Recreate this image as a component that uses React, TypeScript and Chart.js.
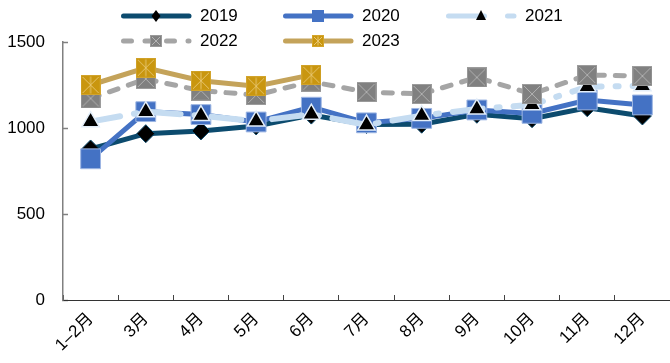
import React, { useEffect, useRef } from 'react';
import { Chart, registerables } from 'chart.js';

Chart.register(...registerables);

// Monthly values, 2019–2023
const months = ['1–2月', '3月', '4月', '5月', '6月', '7月', '8月', '9月', '10月', '11月', '12月'];
const y2019 = [878, 967, 983, 1012, 1075, 1020, 1022, 1080, 1054, 1118, 1070];
const y2020 = [821, 1095, 1078, 1035, 1121, 1030, 1056, 1105, 1085, 1163, 1134];
const y2021 = [1037, 1095, 1072, 1040, 1080, 1018, 1072, 1110, 1135, 1240, 1245];
const y2022 = [1172, 1285, 1217, 1192, 1269, 1209, 1198, 1294, 1198, 1308, 1302];
const y2023 = [1250, 1350, 1275, 1243, 1309];
const yTicks = [0, 500, 1000, 1500];

const FONT = '"Liberation Sans", Arial, "Noto Sans CJK SC", sans-serif';

const C2019 = '#0c4b6e';
const C2020 = '#4472c4';
const C2021 = '#c5dcf1';
const C2022 = '#a5a5a5';
const C2023 = '#c4a35a';

// Filled square marker with a cross (and optional vertical bar) drawn inside
function boxMarker(size: number, fill: string, edge: string, lines: string, star: boolean) {
  const cv = document.createElement('canvas');
  cv.width = size;
  cv.height = size;
  const ctx = cv.getContext('2d')!;
  ctx.fillStyle = fill;
  ctx.fillRect(0, 0, size, size);
  ctx.strokeStyle = edge;
  ctx.lineWidth = 1;
  ctx.strokeRect(0.5, 0.5, size - 1, size - 1);
  ctx.strokeStyle = lines;
  ctx.beginPath();
  ctx.moveTo(2, 2);
  ctx.lineTo(size - 2, size - 2);
  ctx.moveTo(size - 2, 2);
  ctx.lineTo(2, size - 2);
  if (star) {
    ctx.moveTo(size / 2, 1.5);
    ctx.lineTo(size / 2, size - 1.5);
  }
  ctx.stroke();
  return cv;
}

type SwatchSpec = {
  color: string;
  width: number;
  dash: number[];
  marker: (ctx: CanvasRenderingContext2D, x: number, y: number) => void;
};

const swatches: Record<string, SwatchSpec> = {
  '2019': {
    color: C2019,
    width: 5,
    dash: [],
    marker: (ctx, x, y) => {
      ctx.fillStyle = '#000';
      ctx.beginPath();
      ctx.moveTo(x, y - 6);
      ctx.lineTo(x + 4.5, y);
      ctx.lineTo(x, y + 6);
      ctx.lineTo(x - 4.5, y);
      ctx.closePath();
      ctx.fill();
    },
  },
  '2020': {
    color: C2020,
    width: 5,
    dash: [],
    marker: (ctx, x, y) => {
      ctx.fillStyle = C2020;
      ctx.fillRect(x - 6, y - 6, 12, 12);
    },
  },
  '2021': {
    color: C2021,
    width: 5,
    dash: [36, 23, 7, 40],
    marker: (ctx, x, y) => {
      ctx.fillStyle = '#000';
      ctx.beginPath();
      ctx.moveTo(x, y - 6);
      ctx.lineTo(x + 5, y + 4);
      ctx.lineTo(x - 5, y + 4);
      ctx.closePath();
      ctx.fill();
    },
  },
  '2022': {
    color: C2022,
    width: 5,
    dash: [8, 13.5],
    marker: (ctx, x, y) => {
      ctx.drawImage(boxMarker(12, '#808080', '#9a9a9a', '#b4b4b4', false), x - 6, y - 6);
    },
  },
  '2023': {
    color: C2023,
    width: 5,
    dash: [],
    marker: (ctx, x, y) => {
      ctx.drawImage(boxMarker(12, '#c9960f', '#d4a52a', '#e8c770', true), x - 6, y - 6);
    },
  },
};

function Swatch({ name }: { name: string }) {
  const ref = useRef<HTMLCanvasElement>(null);
  useEffect(() => {
    const cv = ref.current!;
    const ctx = cv.getContext('2d')!;
    const s = swatches[name];
    const cy = cv.height / 2;
    ctx.clearRect(0, 0, cv.width, cv.height);
    ctx.lineCap = 'round';
    ctx.lineWidth = s.width;
    ctx.strokeStyle = s.color;
    ctx.setLineDash(s.dash);
    ctx.beginPath();
    ctx.moveTo(5.5, cy);
    ctx.lineTo(71, cy);
    ctx.stroke();
    ctx.setLineDash([]);
    s.marker(ctx, 38, cy);
  }, [name]);
  return <canvas ref={ref} width={76} height={22} style={{ display: 'block' }} />;
}

const legendItems = [
  { name: '2019', x: 118, y: 5 },
  { name: '2020', x: 280, y: 5 },
  { name: '2021', x: 443, y: 5 },
  { name: '2022', x: 118, y: 30 },
  { name: '2023', x: 280, y: 30 },
];

export default function App() {
  const canvasRef = useRef<HTMLCanvasElement>(null);

  useEffect(() => {
    document.body.style.margin = '0';
    const ctx = canvasRef.current!.getContext('2d')!;
    const mark2022 = boxMarker(20, '#808080', '#9c9c9c', '#b0b0b0', false);
    const mark2023 = boxMarker(20, '#c9960f', '#d2a42c', '#e6c46c', true);

    const chart = new Chart(ctx, {
      type: 'line',
      data: {
        labels: months,
        datasets: [
          {
            label: '2019',
            data: y2019,
            borderColor: C2019,
            borderWidth: 5,
            pointStyle: 'rectRot',
            pointRadius: 9,
            pointBackgroundColor: '#000',
            pointBorderColor: C2019,
            pointBorderWidth: 1,
            order: 5,
          },
          {
            label: '2020',
            data: y2020,
            borderColor: C2020,
            borderWidth: 5,
            pointStyle: 'rect',
            pointRadius: 14,
            pointBackgroundColor: C2020,
            pointBorderColor: '#9db6e3',
            pointBorderWidth: 1,
            order: 4,
          },
          {
            label: '2021',
            data: y2021,
            borderColor: C2021,
            borderWidth: 6,
            borderDash: [30, 14, 3, 14],
            borderCapStyle: 'round',
            pointStyle: 'triangle',
            pointRadius: 10,
            pointBackgroundColor: '#000',
            pointBorderColor: '#e3eef9',
            pointBorderWidth: 1.5,
            order: 3,
          },
          {
            label: '2022',
            data: y2022,
            borderColor: C2022,
            borderWidth: 5,
            borderDash: [9, 11],
            borderCapStyle: 'round',
            pointStyle: mark2022,
            pointRadius: 10,
            order: 2,
          },
          {
            label: '2023',
            data: y2023,
            borderColor: C2023,
            borderWidth: 5,
            pointStyle: mark2023,
            pointRadius: 10,
            order: 1,
          },
        ],
      },
      options: {
        animation: false,
        responsive: false,
        maintainAspectRatio: false,
        layout: { autoPadding: false, padding: { top: 42, left: 0, right: 0, bottom: 0 } },
        elements: { line: { tension: 0 } },
        plugins: {
          legend: { display: false },
          tooltip: { enabled: false },
        },
        scales: {
          x: {
            type: 'category',
            offset: true,
            grid: {
              offset: true,
              drawOnChartArea: false,
              tickLength: -5,
              tickColor: '#444',
              tickWidth: 1,
            },
            border: { color: '#333', width: 1 },
            ticks: {
              autoSkip: false,
              maxRotation: 45,
              minRotation: 45,
              padding: 14,
              color: '#000',
              font: { size: 17, family: FONT },
            },
            afterFit: (s: any) => {
              s.height = 63;
              s.paddingLeft = 0;
              s.paddingRight = 0;
            },
          },
          y: {
            min: 0,
            max: 1500,
            afterBuildTicks: (s: any) => {
              s.ticks = yTicks.map((v) => ({ value: v }));
            },
            grid: {
              drawOnChartArea: false,
              tickLength: -5,
              tickColor: '#808080',
              tickWidth: 1.5,
            },
            border: { color: '#808080', width: 1.5 },
            ticks: {
              padding: 23,
              color: '#000',
              font: { size: 17, family: FONT },
              callback: (v: any) => String(v),
            },
            afterFit: (s: any) => {
              s.width = 63;
              s.paddingTop = 0;
              s.paddingBottom = 0;
            },
          },
        },
      },
    });
    return () => chart.destroy();
  }, []);

  return (
    <div style={{ position: 'relative', width: 670, height: 363, background: '#fff', fontFamily: FONT }}>
      <canvas ref={canvasRef} width={670} height={363} style={{ display: 'block' }} />
      {legendItems.map((it) => (
        <div
          key={it.name}
          style={{
            position: 'absolute',
            left: it.x,
            top: it.y,
            height: 22,
            display: 'flex',
            alignItems: 'center',
          }}
        >
          <Swatch name={it.name} />
          <span style={{ fontSize: 17, lineHeight: '22px', color: '#000', marginLeft: 6 }}>{it.name}</span>
        </div>
      ))}
    </div>
  );
}
